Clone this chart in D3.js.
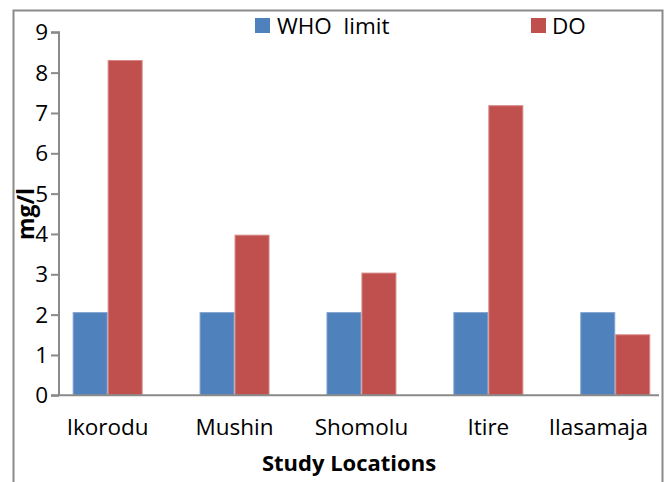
<!DOCTYPE html>
<html>
<head>
<meta charset="utf-8">
<script src="https://cdn.jsdelivr.net/npm/d3@7"></script>
<style>
  html, body { margin: 0; padding: 0; background: #fff; }
  svg { display: block; }
  text { font-family: "Open Sans", "Noto Sans", sans-serif; fill: #000; }
</style>
</head>
<body>
<svg id="chart" width="664" height="482"></svg>
<script>
// Dissolved oxygen at each study location against the WHO limit (mg/l)
const categories = ["Ikorodu", "Mushin", "Shomolu", "Itire", "Ilasamaja"];
const seriesNames = ["WHO  limit", "DO"];
const whoLimit = [2.05, 2.05, 2.05, 2.05, 2.05];
const doValues = [8.3, 3.97, 3.03, 7.18, 1.5];
const yTicks = [0, 1, 2, 3, 4, 5, 6, 7, 8, 9];
const yTitle = "mg/l";
const xTitle = "Study Locations";

const colors = { "WHO  limit": "#4F81BD", "DO": "#C0504D" };
const strokes = { "WHO  limit": "#7FA2CE", "DO": "#D68785" };

const svg = d3.select("#chart");

// outer chart frame (bottom edge runs off the page)
svg.append("rect")
  .attr("x", 13.5).attr("y", 10.5)
  .attr("width", 649).attr("height", 490)
  .attr("fill", "#fff").attr("stroke", "#8a8a8a").attr("stroke-width", 2);

const axisX = 59, axisRight = 659;
const y = d3.scaleLinear().domain([0, 9]).range([395.3, 32.3]);

const x = d3.scaleBand().domain(categories).range([44.2, 678.7]).paddingInner(0).paddingOuter(0);
const xs = d3.scaleBand().domain(seriesNames).range([0, x.bandwidth()]).paddingInner(0).paddingOuter(0.814);

const rows = categories.map((c, i) => ({ cat: c, vals: [whoLimit[i], doValues[i]] }));

// bars
const groups = svg.append("g").selectAll("g").data(rows).join("g")
  .attr("transform", d => `translate(${x(d.cat)},0)`);
groups.selectAll("rect")
  .data(d => seriesNames.map((s, j) => ({ s, v: d.vals[j] })))
  .join("rect")
  .attr("x", d => xs(d.s) + 0.5)
  .attr("width", xs.bandwidth() - 1)
  .attr("y", d => y(d.v))
  .attr("height", d => y(0) - y(d.v))
  .attr("fill", d => colors[d.s])
  .attr("stroke", d => strokes[d.s])
  .attr("stroke-width", 1);

// y axis
const yAxis = d3.axisLeft(y).tickValues(yTicks).tickSize(8).tickPadding(4).tickFormat(d3.format("d"));
const gy = svg.append("g").attr("transform", `translate(${axisX},0)`).call(yAxis);
gy.select(".domain").attr("stroke", "#8a8a8a").attr("stroke-width", 2)
  .attr("d", `M-8,${y(9)}H0V${y(0)}`);
gy.selectAll(".tick line").attr("stroke", "#8a8a8a").attr("stroke-width", 2);
gy.selectAll(".tick text").style("font-size", "22.5px").style("font-family", "'Open Sans', sans-serif")
  .attr("fill", "#000").attr("x", -11).attr("dy", "0.34em");

// x axis line
svg.append("line")
  .attr("x1", axisX - 8).attr("x2", axisRight)
  .attr("y1", y(0)).attr("y2", y(0))
  .attr("stroke", "#8a8a8a").attr("stroke-width", 2);

// category labels, kept inside the plot on the right
const labels = svg.append("g").selectAll("text").data(categories).join("text")
  .attr("y", 435)
  .style("font-size", "22.5px")
  .text(d => d);
labels.each(function (d) {
  const w = this.getComputedTextLength();
  let cx = x(d) + x.bandwidth() / 2;
  if (cx + w / 2 > axisRight - 11) cx = axisRight - 11 - w / 2;
  d3.select(this).attr("x", cx - w / 2);
});

// axis titles
svg.append("text")
  .attr("x", 349).attr("y", 471)
  .attr("text-anchor", "middle")
  .style("font-size", "22px").style("font-weight", "bold")
  .text(xTitle);

svg.append("text")
  .attr("transform", "translate(34,214) rotate(-90)")
  .attr("text-anchor", "middle")
  .style("font-size", "23px").style("font-weight", "bold")
  .text(yTitle);

// legend
const legendPos = [{ sx: 255, tx: 277 }, { sx: 531, tx: 552 }];
const legend = svg.append("g").selectAll("g").data(seriesNames).join("g");
legend.append("rect")
  .attr("x", (d, i) => legendPos[i].sx).attr("y", 18)
  .attr("width", 15).attr("height", 15)
  .attr("fill", d => colors[d]);
legend.append("text")
  .attr("x", (d, i) => legendPos[i].tx).attr("y", 34)
  .attr("xml:space", "preserve")
  .style("white-space", "pre")
  .style("font-size", "22.5px")
  .text(d => d);
</script>
</body>
</html>
